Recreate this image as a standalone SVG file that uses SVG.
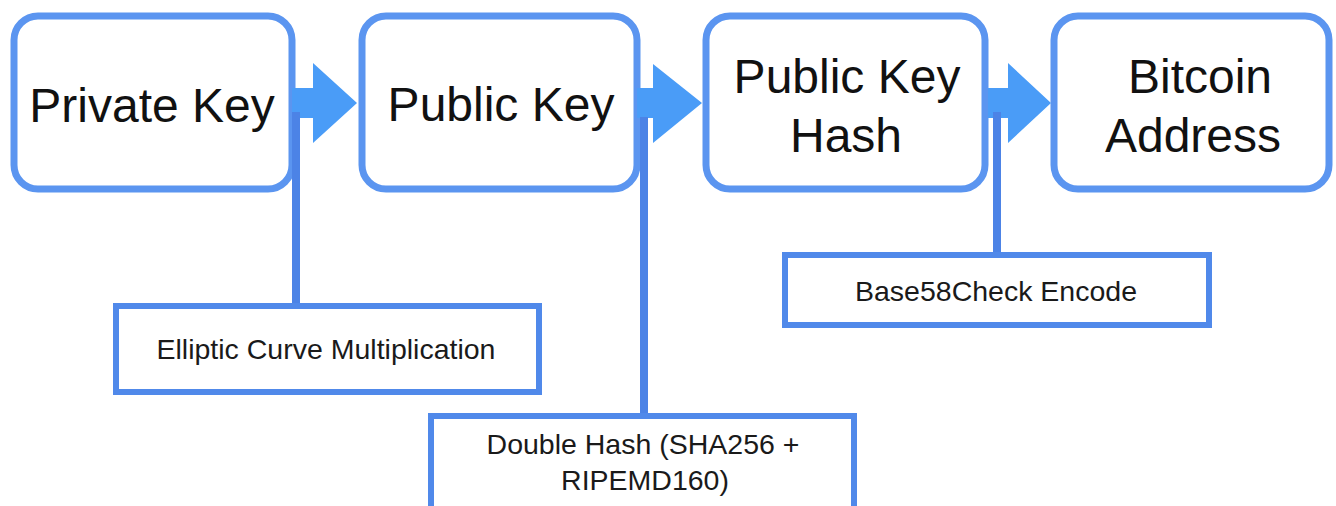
<svg xmlns="http://www.w3.org/2000/svg" width="1336" height="506" viewBox="0 0 1336 506">
  <style>
    .main rect { fill: #ffffff; stroke: #5b95f0; stroke-width: 7; }
    .op rect { fill: #ffffff; stroke: #5089ea; stroke-width: 6; }
    .big { font-family: "Liberation Sans", Arial, sans-serif; font-size: 48px; fill: #111111; text-anchor: middle; }
    .small { font-family: "Liberation Sans", Arial, sans-serif; font-size: 28.5px; fill: #1a1a1a; text-anchor: middle; }
    .arrow { fill: #4a9cf7; }
    .link { stroke: #4c83e6; stroke-width: 8; fill: none; }
  </style>
  <rect width="1336" height="506" fill="#ffffff"/>

  <g id="private-key" class="main">
    <rect x="14" y="16" width="278" height="173" rx="24"/>
    <text class="big" x="152" y="122">Private Key</text>
  </g>
  <g id="public-key" class="main">
    <rect x="362" y="16" width="275" height="173" rx="24"/>
    <text class="big" x="501" y="121">Public Key</text>
  </g>
  <g id="public-key-hash" class="main">
    <rect x="706" y="16" width="279" height="173" rx="24"/>
    <text class="big" x="847" y="93">Public Key</text>
    <text class="big" x="846" y="152">Hash</text>
  </g>
  <g id="bitcoin-address" class="main">
    <rect x="1054" y="16" width="275" height="173" rx="24"/>
    <text class="big" x="1200" y="93">Bitcoin</text>
    <text class="big" x="1193" y="152">Address</text>
  </g>

  <g id="connectors">
    <polygon class="arrow" points="292,88 313,88 313,63 357,103 313,143 313,118 292,118"/>
    <polygon class="arrow" points="637,88 653,88 653,64 702,103 653,143 653,118 637,118"/>
    <polygon class="arrow" points="988,88 1008,88 1008,63 1051,103 1008,143 1008,118 988,118"/>
    <line class="link" x1="296" y1="112" x2="296" y2="305"/>
    <line class="link" x1="644" y1="117" x2="644" y2="415"/>
    <line class="link" x1="997" y1="112" x2="997" y2="254"/>
  </g>

  <g id="elliptic-curve" class="op">
    <rect x="116" y="306" width="423" height="86"/>
    <text class="small" x="326" y="359">Elliptic Curve Multiplication</text>
  </g>
  <g id="double-hash" class="op">
    <rect x="431" y="416" width="423" height="100"/>
    <text class="small" x="643" y="454">Double Hash (SHA256 +</text>
    <text class="small" x="645" y="490">RIPEMD160)</text>
  </g>
  <g id="base58check" class="op">
    <rect x="785" y="255" width="424" height="70"/>
    <text class="small" x="996" y="301">Base58Check Encode</text>
  </g>
</svg>
